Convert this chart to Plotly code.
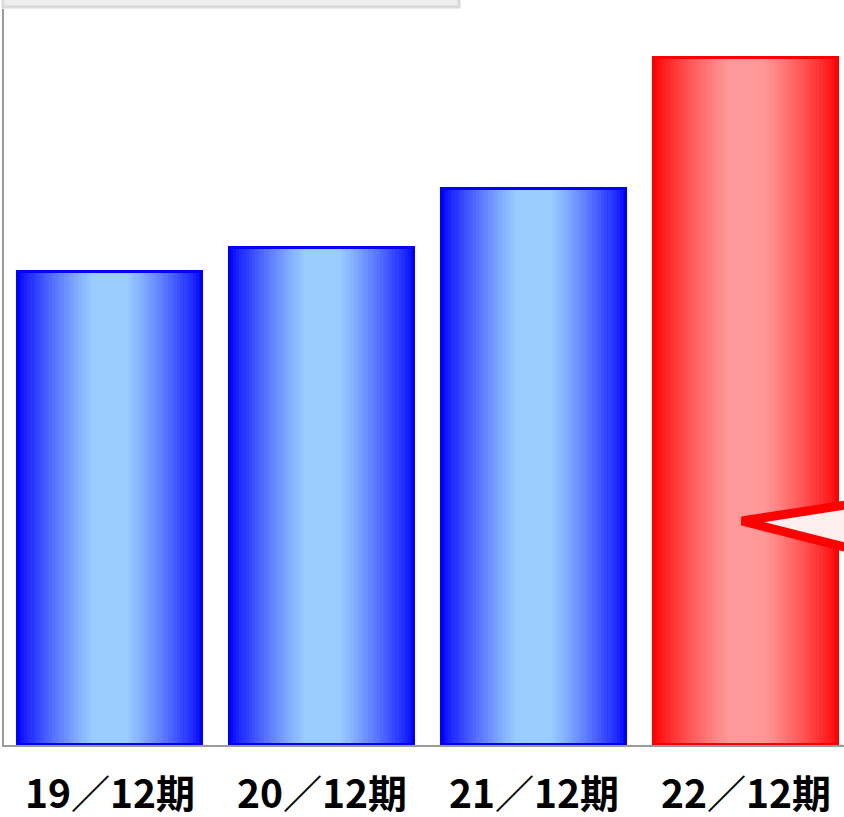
import math
import plotly.graph_objects as go

# ---- data ----
categories = ["19／12期", "20／12期", "21／12期", "22／12期"]
values = [642, 675, 756, 934]
y_max = 1000
highlight = [False, False, False, True]

# ---- styling ----
BAR_W = 0.866
N_SLICES = 60
blue_edge, blue_mid = (0, 0, 255), (153, 204, 255)
red_edge, red_mid = (255, 0, 0), (255, 153, 153)


def mix(a, b, t):
    return "rgb(%d,%d,%d)" % tuple(round(a[k] + (b[k] - a[k]) * t) for k in range(3))


fig = go.Figure()
for i in range(N_SLICES):
    u = (i + 0.5) / N_SLICES
    t = min(1.0, (1 - abs(2 * u - 1)) * 1.25) ** 0.8
    cols = [mix(red_edge, red_mid, t) if h else mix(blue_edge, blue_mid, t) for h in highlight]
    fig.add_trace(go.Bar(
        x=categories, y=values,
        width=BAR_W / N_SLICES * 1.05,
        offset=-BAR_W / 2 + i * BAR_W / N_SLICES,
        marker=dict(color=cols, line=dict(width=0)),
        showlegend=False, hoverinfo="skip",
    ))

# outline
fig.add_trace(go.Bar(
    x=categories, y=values, width=BAR_W, offset=-BAR_W / 2,
    marker=dict(color="rgba(0,0,0,0)",
                line=dict(width=3, color=["#ff0000" if h else "#0000ff" for h in highlight])),
    showlegend=False, hoverinfo="skip",
))

W, H = 844, 817
L, R, T, B = 4, 0, 9, 72
pw, ph = W - L - R, H - T - B


def px(x):
    return (x - L) / pw


def py(y):
    return (H - B - y) / ph


shapes = [
    # grey box at top (cropped)
    dict(type="rect", xref="paper", yref="paper",
         x0=px(3), x1=px(459), y0=py(7), y1=py(-30),
         fillcolor="#eeeeee", line=dict(color="#dadada", width=3), layer="above"),
    # callout pointer (cropped)
    dict(type="path", xref="paper", yref="paper",
         path="M %f,%f L %f,%f L %f,%f L %f,%f Z" % (
             px(852), py(504), px(742), py(521), px(852), py(549), px(900), py(530)),
         fillcolor="#ffeeee", line=dict(color="#ff0000", width=9), layer="above"),
]

fig.update_layout(
    width=W, height=H,
    margin=dict(l=L, r=R, t=T, b=B, pad=0, autoexpand=False),
    paper_bgcolor="white", plot_bgcolor="white",
    barmode="overlay", bargap=0,
    shapes=shapes,
    xaxis=dict(
        range=[-0.5, 3.5 - 8 / 212], showgrid=False, zeroline=False,
        showline=True, linecolor="#9a9a9a", linewidth=1.5,
        ticks="", ticklabelstandoff=14, automargin=False,
        tickfont=dict(family="Noto Sans CJK JP", size=39, color="black", weight="bold"),
    ),
    yaxis=dict(
        range=[0, y_max], showgrid=False, zeroline=False,
        showline=True, linecolor="#9a9a9a", linewidth=1.5,
        showticklabels=False, ticks="", automargin=False,
    ),
)

fig.write_html("out.html", config={"displayModeBar": False},
               post_script="document.body.style.margin='0';")
